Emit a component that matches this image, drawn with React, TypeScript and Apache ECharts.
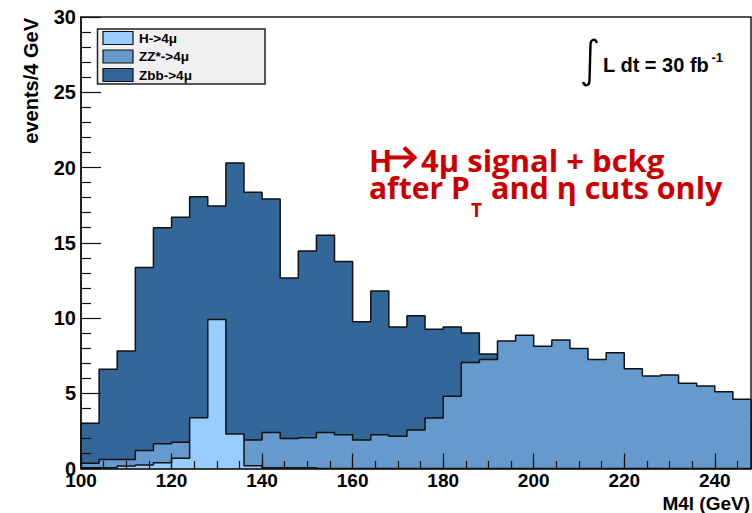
import React, { useEffect, useRef } from "react";
import * as echarts from "echarts";

// Histogram binning: 4 GeV bins, lower edges
const BIN_LOW = [
  100, 104, 108, 112, 116, 120, 124, 128, 132, 136, 140, 144, 148, 152, 156, 160, 164, 168, 172,
  176, 180, 184, 188, 192, 196, 200, 204, 208, 212, 216, 220, 224, 228, 232, 236, 240, 244,
];
const BIN_WIDTH = 4;

// Events per bin for each sample
const ZBB = [
  3.0, 6.6, 7.8, 13.35, 16.0, 16.7, 18.05, 17.45, 20.3, 18.35, 17.9, 12.65, 14.45, 15.5, 13.75,
  9.75, 11.8, 9.4, 10.15, 9.25, 9.4, 9.0, 7.6, 6.9, 6.5, 6.1, 5.8, 5.4, 5.1, 4.8, 4.5, 4.2, 4.0,
  3.7, 3.5, 3.3, 3.1,
];
const ZZ = [
  0.35, 0.6, 0.6, 1.2, 1.65, 1.75, 1.9, 2.0, 2.1, 1.9, 2.4, 2.0, 2.05, 2.4, 2.25, 1.9, 2.25, 2.15,
  2.55, 3.35, 4.8, 7.05, 7.25, 8.47, 8.86, 8.13, 8.53, 7.98, 7.25, 7.69, 6.63, 6.14, 6.21, 5.66,
  5.48, 5.1, 4.6,
];
const HIGGS = [
  0.05, 0.05, 0.17, 0.23, 0.39, 0.68, 3.37, 9.9, 2.3, 0.19, 0.05, 0.05, 0.05, 0, 0, 0, 0, 0, 0, 0,
  0, 0, 0, 0, 0, 0, 0, 0, 0, 0, 0, 0, 0, 0, 0, 0, 0,
];

const SERIES_NAMES = ["Zbb->4μ", "ZZ*->4μ", "H->4μ"];
const SERIES_COLORS = ["#336699", "#6699cc", "#99ccff"];
const SERIES_DATA = [ZBB, ZZ, HIGGS];
// legend rows listed top to bottom
const LEGEND_ORDER = [2, 1, 0];

const X_MIN = 100;
const X_MAX = 248;
const Y_MAX = 30;

const AXIS_FONT = '"Liberation Sans", Arial, Helvetica, sans-serif';
const RED = "#cc0000";

// integral sign outline
echarts.graphic.registerShape(
  "integral",
  echarts.graphic.extendPath(
    "M 14 5 C 12.5 0.5, 7.5 0.5, 7.5 7 L 6.5 42 C 6.5 48.5, 1.5 48.5, 0 44",
    {}
  )
);

function stepPoints(values: number[]) {
  const last = values.length - 1;
  const pts: number[][] = [[BIN_LOW[0], 0]];
  values.forEach((v, i) => pts.push([BIN_LOW[i], v]));
  pts.push([BIN_LOW[last] + BIN_WIDTH, values[last]]);
  pts.push([BIN_LOW[last] + BIN_WIDTH, 0]);
  return pts;
}

function redText(x: number, y: number, text: string, size: number) {
  return {
    type: "text",
    x,
    y,
    style: {
      text,
      font: `bold ${size}px "Open Sans", "Noto Sans", sans-serif`,
      fill: RED,
      textAlign: "left",
      textVerticalAlign: "middle",
    },
    z: 20,
  };
}

export default function App() {
  const ref = useRef<HTMLDivElement>(null);

  useEffect(() => {
    if (!ref.current) return;
    const chart = echarts.init(ref.current, undefined, { renderer: "svg" });

    // overlaid (not stacked) histograms, later ones painted over earlier ones
    const series = SERIES_DATA.map((vals, i) => ({
      name: SERIES_NAMES[i],
      type: "line",
      step: "end",
      xAxisIndex: 0,
      yAxisIndex: 0,
      data: stepPoints(vals),
      symbol: "none",
      color: SERIES_COLORS[i],
      lineStyle: { color: "#111", width: 1.5 },
      areaStyle: { color: SERIES_COLORS[i], opacity: 1 },
      z: 2 + i,
    }));

    const legendRowY = [38, 56.5, 75];
    const legendItems: any[] = [];
    LEGEND_ORDER.forEach((si, r) => {
      legendItems.push({
        type: "rect",
        shape: { x: 103, y: legendRowY[r] - 6.5, width: 30, height: 13 },
        style: { fill: SERIES_COLORS[si], stroke: "#111", lineWidth: 1.2 },
        z: 20,
      });
      legendItems.push({
        type: "text",
        x: 139,
        y: legendRowY[r],
        style: {
          text: SERIES_NAMES[si],
          font: `bold 13.5px ${AXIS_FONT}`,
          fill: "#000",
          textAlign: "left",
          textVerticalAlign: "middle",
        },
        z: 21,
      });
    });

    const note: any[] = [
      redText(369, 159.5, "H", 30.5),
      {
        type: "polyline",
        shape: { points: [[388, 157.5], [413, 157.5]] },
        style: { stroke: RED, lineWidth: 4, fill: "none" },
        z: 20,
      },
      {
        type: "polyline",
        shape: { points: [[404, 147.5], [414.5, 157.5], [404, 167.5]] },
        style: { stroke: RED, lineWidth: 4, fill: "none", lineJoin: "miter" },
        z: 20,
      },
      redText(421, 159.5, "4μ signal + bckg", 31),
      redText(369, 187, "after P", 30),
      redText(471, 210, "T", 19),
      redText(491, 187, "and η cuts only", 30.5),
    ];

    const option: any = {
      animation: false,
      grid: {
        left: 81,
        right: 1,
        top: 17,
        bottom: 44.5,
        show: true,
        borderColor: "#1a1a1a",
        borderWidth: 1.5,
        backgroundColor: "#fff",
      },
      xAxis: [
        {
          type: "value",
          min: X_MIN,
          max: X_MAX,
          interval: 20,
          position: "bottom",
          z: 10,
          axisLine: { show: true, onZero: false, lineStyle: { color: "#111", width: 1.5 } },
          axisTick: { show: true, inside: true, length: 15, lineStyle: { color: "#111", width: 1.2 } },
          axisLabel: {
            show: true,
            margin: 2,
            showMaxLabel: false,
            formatter: (v: number) => (v % 20 === 0 ? String(v) : ""),
            color: "#000",
            fontFamily: AXIS_FONT,
            fontWeight: "bold",
            fontSize: 19,
          },
          splitLine: { show: false },
        },
        {
          type: "value",
          min: X_MIN,
          max: X_MAX,
          interval: 5,
          position: "bottom",
          z: 10,
          axisLine: { show: false },
          axisTick: { show: true, inside: true, length: 7.5, lineStyle: { color: "#111", width: 1.2 } },
          axisLabel: { show: false },
          splitLine: { show: false },
        },
      ],
      yAxis: {
        type: "value",
        min: 0,
        max: Y_MAX,
        interval: 5,
        z: 10,
        axisLine: { show: true, onZero: false, lineStyle: { color: "#111", width: 1.5 } },
        axisTick: { show: true, inside: true, length: 20, lineStyle: { color: "#111", width: 1.2 } },
        minorTick: { show: true, splitNumber: 5, length: 10, lineStyle: { color: "#111", width: 1.2 } },
        axisLabel: {
          margin: 5,
          color: "#000",
          fontFamily: AXIS_FONT,
          fontWeight: "bold",
          fontSize: 20,
        },
        splitLine: { show: false },
        minorSplitLine: { show: false },
      },
      series,
      graphic: [
        {
          type: "text",
          x: 30.5,
          y: 18,
          rotation: Math.PI / 2,
          style: {
            text: "events/4 GeV",
            font: `bold 20px ${AXIS_FONT}`,
            fill: "#000",
            textAlign: "right",
            textVerticalAlign: "middle",
          },
        },
        {
          type: "text",
          x: 750,
          y: 503,
          style: {
            text: "M4l (GeV)",
            font: `bold 19px ${AXIS_FONT}`,
            fill: "#000",
            textAlign: "right",
            textVerticalAlign: "middle",
          },
        },
        {
          type: "rect",
          shape: { x: 97.5, y: 29, width: 167.5, height: 55 },
          style: { fill: "#f0f0f0", stroke: "#222", lineWidth: 1.5 },
          z: 19,
        },
        ...legendItems,
        {
          type: "integral",
          x: 583,
          y: 38,
          style: { fill: "none", stroke: "#000", lineWidth: 2.4 },
          z: 20,
        },
        {
          type: "text",
          x: 603,
          y: 65,
          style: {
            text: "L dt = 30 fb",
            font: `bold 20px ${AXIS_FONT}`,
            fill: "#000",
            textAlign: "left",
            textVerticalAlign: "middle",
          },
          z: 20,
        },
        {
          type: "text",
          x: 711.5,
          y: 57.5,
          style: {
            text: "-1",
            font: `bold 13px ${AXIS_FONT}`,
            fill: "#000",
            textAlign: "left",
            textVerticalAlign: "middle",
          },
          z: 20,
        },
        ...note,
      ],
    };

    chart.setOption(option);
    return () => chart.dispose();
  }, []);

  return (
    <div
      ref={ref}
      style={{ position: "fixed", left: 0, top: 0, width: 752, height: 513, background: "#fff" }}
    />
  );
}
